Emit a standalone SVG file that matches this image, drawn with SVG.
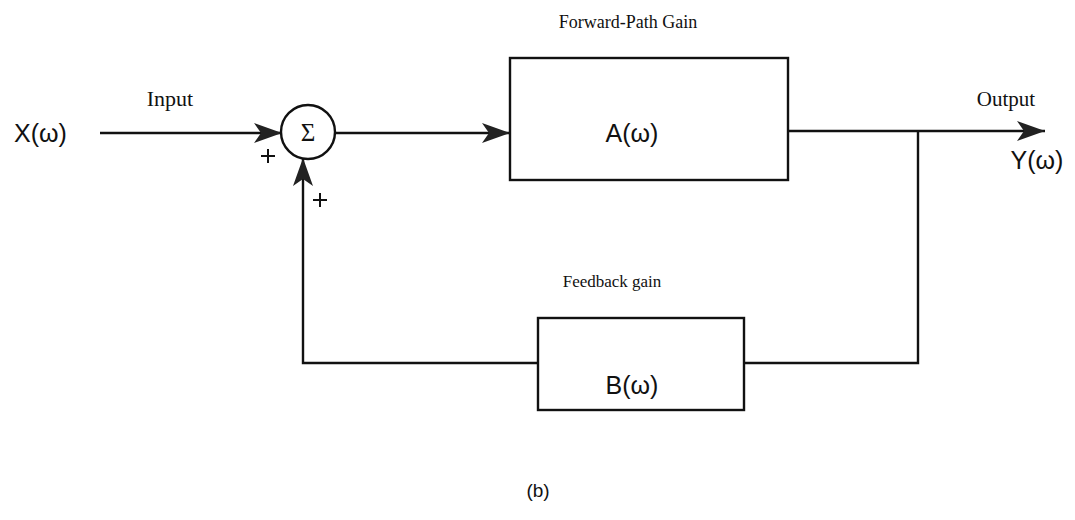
<svg xmlns="http://www.w3.org/2000/svg" width="1075" height="520" viewBox="0 0 1075 520">
<defs>
<marker id="arr" viewBox="0 0 28 20" refX="28" refY="10" markerWidth="28" markerHeight="20" markerUnits="userSpaceOnUse" orient="auto">
<path d="M0,0 L28,10 L0,20 L7,10 Z" fill="#222"/>
</marker>
</defs>
<style>
.ln{stroke:#111;stroke-width:2.4;fill:none}
.box{stroke:#111;stroke-width:2.4;fill:#fff}
.serif{font-family:"Liberation Serif","Times New Roman",serif;fill:#111}
.sans{font-family:"Liberation Sans",Arial,sans-serif;fill:#111}
.plus{stroke:#111;stroke-width:2;fill:none}
</style>
<rect width="1075" height="520" fill="#fff"/>
<g id="connectors">
<path class="ln" d="M100,133 L282,133" marker-end="url(#arr)"/>
<path class="ln" d="M335,133 L510,133" marker-end="url(#arr)"/>
<path class="ln" d="M788,131 L1045,131" marker-end="url(#arr)"/>
<path class="ln" d="M918,131 L918,363 L744,363"/>
<path class="ln" d="M538,363 L303,363 L303,158" marker-end="url(#arr)"/>
</g>
<g id="sum">
<circle cx="308" cy="132" r="27" class="box"/>
<text x="308" y="141" text-anchor="middle" class="serif" font-size="25">Σ</text>
<path class="plus" d="M261,156 H275 M268,149 V163"/>
<path class="plus" d="M313,200 H327 M320,193 V207"/>
</g>
<g id="forward">
<rect x="510" y="58" width="278" height="122" class="box"/>
<text x="632" y="142" text-anchor="middle" class="sans" font-size="25">A(ω)</text>
<text x="628" y="28" text-anchor="middle" class="serif" font-size="18">Forward-Path Gain</text>
</g>
<g id="feedback">
<rect x="538" y="318" width="206" height="92" class="box"/>
<text x="632" y="394" text-anchor="middle" class="sans" font-size="25">B(ω)</text>
<text x="612" y="287" text-anchor="middle" class="serif" font-size="17">Feedback gain</text>
</g>
<g id="input">
<text x="170" y="106" text-anchor="middle" class="serif" font-size="22">Input</text>
<text x="14" y="142" class="sans" font-size="25">X(ω)</text>
</g>
<g id="output">
<text x="1006" y="106" text-anchor="middle" class="serif" font-size="21">Output</text>
<text x="1037" y="169" text-anchor="middle" class="sans" font-size="25">Y(ω)</text>
</g>
<text x="538" y="497" text-anchor="middle" class="sans" font-size="19">(b)</text>
</svg>
